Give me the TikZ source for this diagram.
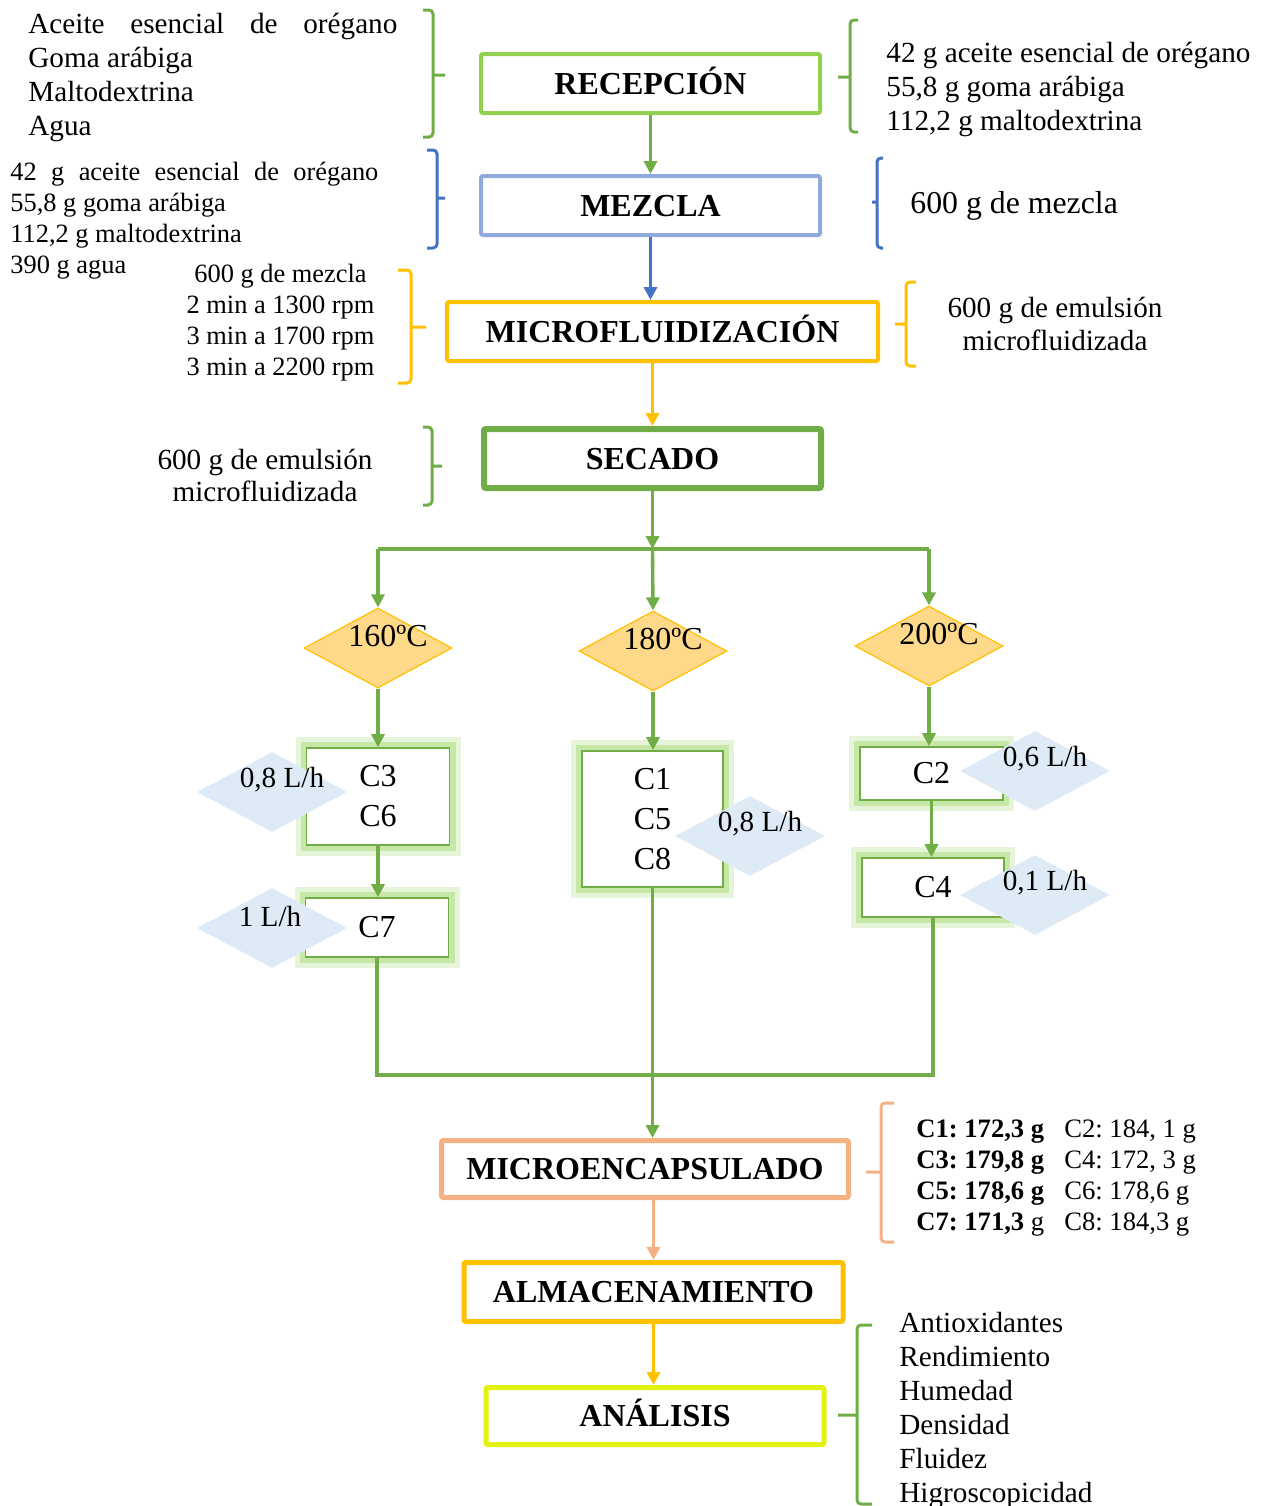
\documentclass[tikz,border=0pt]{standalone}
\usepackage{fontspec}
\setmainfont{Liberation Serif}
\usepackage{tikz}
\usetikzlibrary{arrows.meta,shapes.geometric,positioning}
\frenchspacing

\definecolor{lgreen}{HTML}{92D050}
\definecolor{grn}{HTML}{70AD47}
\definecolor{bluebox}{HTML}{8FAADC}
\definecolor{blueline}{HTML}{4472C4}
\definecolor{gold}{HTML}{FFC000}
\definecolor{peach}{HTML}{F4B183}
\definecolor{ybox}{HTML}{E2F20E}
\definecolor{tempfill}{HTML}{FFD98A}
\definecolor{ratefill}{HTML}{DEEBF7}
\definecolor{glowin}{HTML}{C5E8A6}
\definecolor{glowout}{HTML}{E6F5DA}

\newcommand{\txtsize}[2]{\fontsize{#1}{#2}\selectfont}
% colour, x, top, bottom, middle, serif dx, tick dx
\newcommand{\sidebrace}[7]{%
  \draw[brace line,#1] ({#2+#6},#3) -- (#2,#3) -- (#2,#4) -- ({#2+#6},#4)
    (#2,#5) -- ({#2+#7},#5);}

\begin{document}
\begin{tikzpicture}[x=0.5pt,y=-0.5pt,
    stepbox/.style={draw,rectangle,rounded corners=1pt,inner sep=0pt,minimum height=29.5pt,
      font=\txtsize{16}{19}\bfseries,text height=10.6pt,text depth=0pt},
    tempbox/.style={diamond,draw=gold,line width=0.6pt,fill=tempfill,inner sep=0pt,
      minimum width=74pt,minimum height=40pt},
    tlabel/.style={xshift=5pt,yshift=6pt,font=\txtsize{16}{19}},
    cbox/.style={draw=grn,line width=0.8pt,fill=white,inner sep=0pt,align=center,
      font=\txtsize{16}{20},
      preaction={draw=glowout,line width=11pt},preaction={draw=glowin,line width=6pt}},
    ratebox/.style={diamond,fill=ratefill,inner sep=0pt,minimum width=75pt,minimum height=40pt},
    rlabel/.style={xshift=5pt,yshift=6pt,font=\txtsize{14.6}{17}},
    flow/.style={line width=1.7pt,-{Triangle[length=6.5pt,width=6.5pt]}},
    link/.style={line width=1.7pt},
    brace line/.style={line width=1.5pt,rounded corners=2pt}]
  \useasboundingbox (0,0) rectangle (1267,1506);

  % main steps
  \node[stepbox,draw=lgreen,line width=2pt,minimum width=169.5pt] (rec) at (650.5,83.5) {RECEPCIÓN};
  \node[stepbox,draw=bluebox,line width=2pt,minimum width=169.5pt] (mez) at (650.5,205.5) {MEZCLA};
  \node[stepbox,draw=gold,line width=2pt,minimum width=215.5pt] (mic) at (662.5,331.5) {MICROFLUIDIZACIÓN};
  \node[stepbox,draw=grn,line width=3pt,minimum width=168.5pt] (sec) at (652.5,458.5) {SECADO};
  \node[stepbox,draw=peach,line width=2.5pt,minimum width=203.5pt,minimum height=28.5pt] (menc) at (645,1169) {MICROENCAPSULADO};
  \node[stepbox,draw=gold,line width=2.5pt,minimum width=189.5pt] (alm) at (653.5,1292) {ALMACENAMIENTO};
  \node[stepbox,draw=ybox,line width=2.5pt,minimum width=169pt,minimum height=28.5pt] (ana) at (655,1416) {ANÁLISIS};

  % drying temperatures
  \node[tempbox,label={[tlabel]center:160ºC}] (t160) at (378,648) {};
  \node[tempbox,label={[tlabel]center:180ºC}] (t180) at (653,651) {};
  \node[tempbox,label={[tlabel]center:200ºC}] (t200) at (929,646) {};

  % treatments
  \node[cbox,minimum width=71.5pt,minimum height=48.5pt] (c36) at (378,796.5) {C3\\C6};
  \node[cbox,minimum width=70.5pt,minimum height=68pt] (c158) at (652.5,819) {C1\\C5\\C8};
  \node[cbox,minimum width=71.5pt,minimum height=26.5pt] (c2) at (931.5,773.5) {C2};
  \node[cbox,minimum width=71pt,minimum height=29.5pt] (c4) at (933,887.5) {C4};
  \node[cbox,minimum width=71.5pt,minimum height=29.5pt] (c7) at (377,927.5) {C7};

  \coordinate (jl) at (378,549);
  \coordinate (jc) at (652.5,549);
  \coordinate (jr) at (929,549);
  \coordinate (jb) at (652.5,1075);

  \draw[flow,grn] (rec) -- (mez);
  \draw[flow,blueline] (mez.south) -- (mez.south |- mic.north);
  \draw[flow,gold] (sec.north |- mic.south) -- (sec.north);
  \draw[flow,grn] (sec.south) -- (jc);
  \draw[link,grn] (jl) -- (jr);
  \draw[flow,grn] (jl) -- (t160.north);
  \draw[flow,grn] (jc) -- (t180.north);
  \draw[flow,grn] (jr) -- (t200.north);
  \draw[flow,grn] (t160.south) -- (c36.north);
  \draw[flow,grn] (c36.south) -- (c36.south |- c7.north);
  \draw[flow,grn] (t180.south) -- (t180.south |- c158.north);
  \draw[flow,grn] (t200.south) -- (t200.south |- c2.north);
  \draw[flow,grn] (c2.south) -- (c2.south |- c4.north);
  \draw[link,grn] (c7.south) |- (jb) -| (c4.south);
  \draw[flow,grn] (c158.south) -- (c158.south |- menc.north);
  \draw[flow,peach] (alm.north |- menc.south) -- (alm.north);
  \draw[flow,gold] (alm.south) -- (alm.south |- ana.north);

  % feed rates
  \node[ratebox,label={[rlabel]center:{0,8 L/h}}] (r36) at (272,792) {};
  \node[ratebox,label={[rlabel,xshift=-6pt]center:{1 L/h}}] (r7) at (272,928) {};
  \node[ratebox,label={[rlabel]center:{0,8 L/h}}] (r158) at (750,836) {};
  \node[ratebox,label={[rlabel]center:{0,6 L/h}}] (r2) at (1035,771) {};
  \node[ratebox,label={[rlabel]center:{0,1 L/h}}] (r4) at (1035,895) {};

  % side notes (base = last line)
  \node[anchor=base west,align=left,inner sep=0pt,font=\txtsize{14.6}{17}] (ingr) at (28,135)
    {\makebox[184.5pt][s]{Aceite esencial de orégano}\\Goma arábiga\\Maltodextrina\\Agua};
  \node[anchor=base west,align=left,inner sep=0pt,font=\txtsize{13.2}{15.35}] (dose) at (10,273)
    {\makebox[184pt][s]{42 g aceite esencial de orégano}\\55,8 g goma arábiga\\112,2 g maltodextrina\\390 g agua};
  \node[anchor=base,align=center,inner sep=0pt,font=\txtsize{13.2}{15.35}] (speed) at (280.5,375)
    {600 g de mezcla\\2 min a 1300 rpm\\3 min a 1700 rpm\\3 min a 2200 rpm};
  \node[anchor=base west,align=left,inner sep=0pt,font=\txtsize{14.6}{17}] (recout) at (886,130)
    {42 g aceite esencial de orégano\\55,8 g goma arábiga\\112,2 g maltodextrina};
  \node[anchor=base west,inner sep=0pt,font=\txtsize{15.9}{19}] (mezout) at (910,213) {600 g de mezcla};
  \node[anchor=base,align=center,inner sep=0pt,font=\txtsize{14.6}{16.5}] (micout) at (1055,350)
    {600 g de emulsión\\microfluidizada};
  \node[anchor=base,align=center,inner sep=0pt,font=\txtsize{14.6}{16}] (secin) at (265,501)
    {600 g de emulsión\\microfluidizada};
  \node[anchor=base west,align=left,inner sep=0pt,font=\txtsize{13.3}{15.5}] (yielda) at (916,1230)
    {\textbf{C1: 172,3 g}\\\textbf{C3: 179,8 g}\\\textbf{C5: 178,6 g}\\\textbf{C7: 171,3} g};
  \node[anchor=base west,align=left,inner sep=0pt,font=\txtsize{13.3}{15.5}] (yieldb) at (1064,1230)
    {C2: 184, 1 g\\C4: 172, 3 g\\C6: 178,6 g\\C8: 184,3 g};
  \node[anchor=base west,align=left,inner sep=0pt,font=\txtsize{14.6}{17}] (tests) at (899,1502)
    {Antioxidantes\\Rendimiento\\Humedad\\Densidad\\Fluidez\\Higroscopicidad};

  % brackets
  \sidebrace{grn}{433}{10}{137}{75}{-10}{12}
  \sidebrace{blueline}{437}{150}{248}{198}{-10}{8}
  \sidebrace{grn}{850}{20}{132}{77}{8}{-12}
  \sidebrace{blueline}{877}{158}{248}{202}{6}{-5}
  \sidebrace{gold}{411}{270}{383}{327}{-13}{15}
  \sidebrace{gold}{906}{282}{366}{324}{10}{-11}
  \sidebrace{grn}{432}{427}{505}{466}{-9}{10}
  \sidebrace{peach}{881}{1103}{1242}{1172}{13}{-15}
  \sidebrace{grn}{857}{1325}{1504}{1415}{15}{-19}
\end{tikzpicture}
\end{document}
